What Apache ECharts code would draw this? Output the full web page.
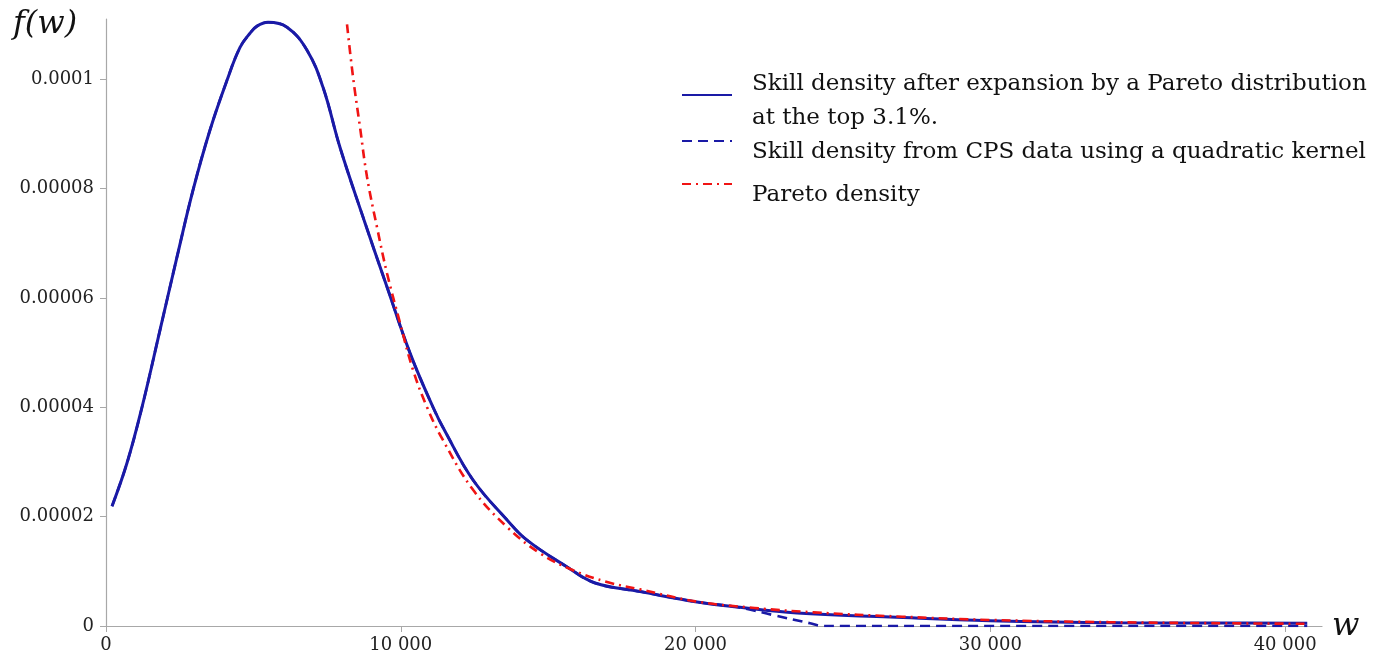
<!DOCTYPE html>
<html>
<head>
<meta charset="utf-8">
<script src="https://cdn.jsdelivr.net/npm/echarts@6/dist/echarts.min.js"></script>
<style>
html,body{margin:0;padding:0;background:#fff;}
#chart{width:1374px;height:658px;}
</style>
</head>
<body>
<div id="chart"></div>
<script>
// ---- data ----
const seriesNames = [
  'Skill density after expansion by a Pareto distribution\nat the top 3.1%.',
  'Skill density from CPS data using a quadratic kernel',
  'Pareto density'
];
const expW = [204, 712, 1221, 1832, 2409, 2952, 3528, 4105, 4546, 4885, 5123, 5496, 6141, 6819, 7362, 7939, 8787, 9533, 10314, 11094, 11501, 12451, 13605, 14283, 15640, 16590, 18117, 20051, 21408, 23444, 26599, 29990, 34400, 37500, 40750];
const expF = [2.19e-5, 2.98e-5, 4.00e-5, 5.41e-5, 6.75e-5, 7.97e-5, 9.07e-5, 9.98e-5, 1.058e-4, 1.084e-4, 1.097e-4, 1.104e-4, 1.095e-4, 1.053e-4, 9.85e-5, 8.75e-5, 7.37e-5, 6.20e-5, 4.99e-5, 4.00e-5, 3.56e-5, 2.67e-5, 1.94e-5, 1.57e-5, 1.08e-5, 7.86e-6, 6.3e-6, 4.39e-6, 3.47e-6, 2.38e-6, 1.65e-6, 9.7e-7, 6.0e-7, 5.5e-7, 5.0e-7];
const cpsW = [204, 712, 1221, 1832, 2409, 2952, 3528, 4105, 4546, 4885, 5123, 5496, 6141, 6819, 7362, 7939, 8787, 9533, 10314, 11094, 11501, 12451, 13605, 14283, 15640, 16590, 18117, 20051, 21408, 22630, 23885, 24330, 40750];
const cpsF = [2.19e-5, 2.98e-5, 4.00e-5, 5.41e-5, 6.75e-5, 7.97e-5, 9.07e-5, 9.98e-5, 1.058e-4, 1.084e-4, 1.097e-4, 1.104e-4, 1.095e-4, 1.053e-4, 9.85e-5, 8.75e-5, 7.37e-5, 6.20e-5, 4.99e-5, 4.00e-5, 3.56e-5, 2.67e-5, 1.94e-5, 1.57e-5, 1.08e-5, 7.86e-6, 6.3e-6, 4.39e-6, 3.47e-6, 2.0e-6, 5.0e-7, 0, 0];
const parW = [8176, 8380, 8617, 8855, 9194, 9533, 9975, 10416, 10891, 11400, 12451, 13605, 14724, 15844, 16997, 18117, 20000, 22000, 24000, 27000, 30000, 34000, 38000, 40750];
const parF = [1.10e-4, 1.004e-4, 9.12e-5, 8.21e-5, 7.29e-5, 6.45e-5, 5.54e-5, 4.68e-5, 4.00e-5, 3.43e-5, 2.49e-5, 1.81e-5, 1.33e-5, 1.02e-5, 8.04e-6, 6.7e-6, 4.5e-6, 3.3e-6, 2.5e-6, 1.7e-6, 1.1e-6, 7e-7, 5e-7, 4e-7];
const xTickValues = [0, 10000, 20000, 30000, 40000];
const xTickLabels = ['0', '10 000', '20 000', '30 000', '40 000'];
const yTickValues = [0, 0.00002, 0.00004, 0.00006, 0.00008, 0.0001];
const yTickLabels = ['0', '0.00002', '0.00004', '0.00006', '0.00008', '0.0001'];

const zip = (a, b) => a.map((v, i) => [v, b[i]]);
const labelFor = (vals, labs) => (v) => {
  for (let i = 0; i < vals.length; i++) {
    if (Math.abs(vals[i] - v) <= Math.abs(vals[i]) * 1e-6 + 1e-12) return labs[i];
  }
  return '';
};

const blue = '#1a1aa6';
const red = '#f01414';
const axisGray = '#a8a8a8';
const tickFont = 'DejaVu Serif';
const legFont = 'DejaVu Serif';

const chart = echarts.init(document.getElementById('chart'), null, {renderer: 'canvas'});
// rich legend text: a spacer line pushes the text down relative to its icon
const legendFormatter = (name) => '{s| }\n' + name.split('\n').map(l => '{t|' + l + '}').join('\n');
const legendText = (spacer) => ({
  fontFamily: legFont, fontSize: 23, color: '#111', padding: [0, 0, 0, 15],
  rich: {
    s: {fontSize: 4, lineHeight: spacer, height: spacer},
    t: {fontFamily: legFont, fontSize: 23, color: '#111', lineHeight: 34}
  }
});
const legendCommon = {left: 681, padding: 0, itemWidth: 50, itemHeight: 14, selectedMode: false, icon: 'inherit',
  itemStyle: {opacity: 0, borderWidth: 0}, formatter: legendFormatter};
chart.setOption({
  animation: false,
  backgroundColor: '#fff',
  grid: {left: 106, right: 52, top: 19, bottom: 32, containLabel: false},
  xAxis: {
    type: 'value', min: 0, max: 41250,
    axisLine: {lineStyle: {color: axisGray, width: 1.2}},
    axisTick: {show: true, length: 6, lineStyle: {color: axisGray}, customValues: xTickValues},
    axisLabel: {customValues: xTickValues, formatter: labelFor(xTickValues, xTickLabels), fontFamily: tickFont, fontSize: 18, color: '#222', margin: 10},
    splitLine: {show: false}
  },
  yAxis: {
    type: 'value', min: 0, max: 0.000111,
    axisLine: {show: true, lineStyle: {color: axisGray, width: 1.2}},
    axisTick: {show: true, length: 6, lineStyle: {color: axisGray}, customValues: yTickValues},
    axisLabel: {customValues: yTickValues, formatter: labelFor(yTickValues, yTickLabels), fontFamily: tickFont, fontSize: 18, color: '#222', margin: 12},
    splitLine: {show: false}
  },
  legend: [
    Object.assign({data: [seriesNames[0]], top: 55, textStyle: legendText(12)}, legendCommon),
    Object.assign({data: [seriesNames[1]], top: 113, textStyle: legendText(22)}, legendCommon),
    Object.assign({data: [seriesNames[2]], top: 156, textStyle: legendText(22)}, legendCommon)
  ],
  graphic: [
    {type: 'text', left: 13, top: 9, style: {text: 'f(w)', fontFamily: 'DejaVu Serif', fontStyle: 'italic', fontSize: 32, fill: '#111'}},
    {type: 'text', left: 1332, top: 611, style: {text: 'w', fontFamily: 'DejaVu Serif', fontStyle: 'italic', fontSize: 32, fill: '#111'}}
  ],
  series: [
    {name: seriesNames[0], type: 'line', data: zip(expW, expF), symbol: 'none', smooth: 0.4,
     lineStyle: {color: blue, width: 3}, itemStyle: {color: blue}, z: 2},
    {name: seriesNames[1], type: 'line', data: zip(cpsW, cpsF), symbol: 'none', smooth: 0.4,
     lineStyle: {color: blue, width: 2.6, type: [10, 6]}, itemStyle: {color: blue}, z: 3},
    {name: seriesNames[2], type: 'line', data: zip(parW, parF), symbol: 'none', smooth: 0.4,
     lineStyle: {color: red, width: 2.6, type: [9, 5, 2, 5]}, itemStyle: {color: red}, z: 4}
  ]
});
</script>
</body>
</html>
